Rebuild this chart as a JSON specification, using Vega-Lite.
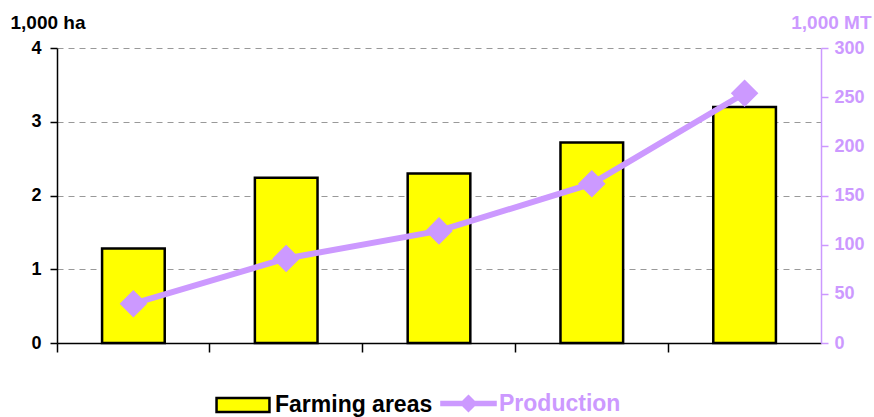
{
  "$schema": "https://vega.github.io/schema/vega-lite/v6.json",
  "autosize": "none",
  "width": 764,
  "height": 295,
  "padding": {"left": 57, "top": 48, "right": 53, "bottom": 74},
  "background": "white",
  "config": {
    "view": {"stroke": null},
    "font": "Liberation Sans",
    "axis": {"labelFont": "Liberation Sans", "titleFont": "Liberation Sans", "labelFontWeight": "bold", "titleFontWeight": "bold"},
    "legend": {"labelFont": "Liberation Sans", "labelFontWeight": "bold", "labelFontSize": 23, "orient": "none", "direction": "horizontal", "title": null, "padding": 0, "labelOffset": 4}
  },
  "data": {"values": [
    {"period": "1", "area": 1.28, "production": 40},
    {"period": "2", "area": 2.24, "production": 86},
    {"period": "3", "area": 2.30, "production": 114},
    {"period": "4", "area": 2.72, "production": 162},
    {"period": "5", "area": 3.20, "production": 254}
  ]},
  "encoding": {
    "x": {"field": "period", "type": "nominal", "sort": null,
      "scale": {"paddingInner": 0, "paddingOuter": 0},
      "axis": {"title": null, "labels": false, "bandPosition": 0, "domainColor": "black", "domainWidth": 1.5, "tickColor": "black", "tickSize": 9, "tickWidth": 1.5, "grid": false}}
  },
  "layer": [
    {
      "mark": {"type": "bar", "stroke": "black", "strokeWidth": 2.5, "width": {"band": 0.41}},
      "encoding": {
        "y": {"field": "area", "type": "quantitative",
          "scale": {"domain": [0, 4]},
          "axis": {"title": "1,000 ha", "titleAngle": 0, "titleAlign": "right", "titleBaseline": "alphabetic", "titleX": 28, "titleY": -20, "titleFontSize": 19, "titleColor": "black",
            "values": [0, 1, 2, 3, 4], "labelFontSize": 18, "labelColor": "black", "labelPadding": 9,
            "domainColor": "black", "domainWidth": 1.5, "tickColor": "black", "tickSize": 7, "tickWidth": 1.5,
            "grid": true, "gridColor": "#999999", "gridDash": [6, 5], "gridWidth": 1.2}},
        "fill": {"datum": "Farming areas", "type": "nominal",
          "scale": {"range": ["#ffff00"]},
          "legend": {"symbolType": "M-1,-0.26L1,-0.26L1,0.26L-1,0.26Z", "symbolSize": 2800, "symbolStrokeColor": "black", "symbolStrokeWidth": 2.5, "labelColor": "black", "legendX": 158, "legendY": 329}}
      }
    },
    {
      "layer": [
        {
          "mark": {"type": "line", "strokeWidth": 6},
          "encoding": {
            "y": {"field": "production", "type": "quantitative",
              "scale": {"domain": [0, 300]},
              "axis": {"orient": "right", "title": "1,000 MT", "titleAngle": 0, "titleAlign": "right", "titleBaseline": "alphabetic", "titleX": 50, "titleY": -20, "titleFontSize": 19, "titleColor": "#cc99ff",
                "values": [0, 50, 100, 150, 200, 250, 300], "labelFontSize": 18, "labelColor": "#cc99ff", "labelPadding": 6,
                "domainColor": "#cc99ff", "domainWidth": 1.5, "tickColor": "#cc99ff", "tickSize": 7, "tickWidth": 1.5, "grid": false}},
            "stroke": {"datum": "Production", "type": "nominal",
              "scale": {"range": ["#cc99ff"]},
              "legend": {"symbolType": "M-1,-0.1L1,-0.1L1,0.1L-1,0.1Z M0,-0.32L0.32,0L0,0.32L-0.32,0Z", "symbolSize": 3200, "symbolFillColor": "#cc99ff", "symbolStrokeWidth": 0, "labelColor": "#cc99ff", "labelOffset": 2, "legendX": 383, "legendY": 327}}
          }
        },
        {
          "mark": {"type": "point", "shape": "diamond", "filled": true, "color": "#cc99ff", "size": 760, "opacity": 1},
          "encoding": {
            "y": {"field": "production", "type": "quantitative"}
          }
        }
      ]
    }
  ],
  "resolve": {"scale": {"y": "independent", "fill": "independent", "stroke": "independent"}}
}
